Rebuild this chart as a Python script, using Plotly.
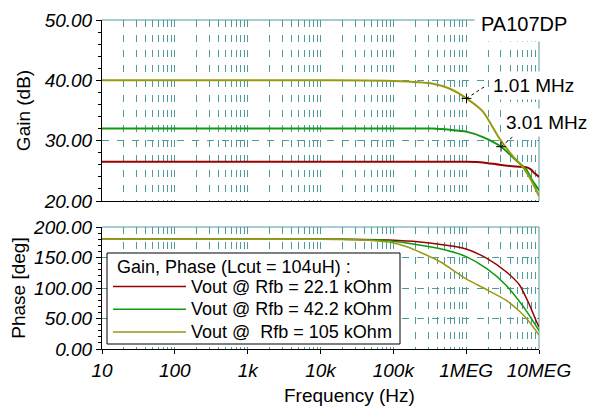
import numpy as np
import plotly.graph_objects as go

# ---------------- data ----------------
legend_title = "Gain, Phase (Lcut = 104uH) :"
series_names = ["Vout @ Rfb = 22.1 kOhm", "Vout @ Rfb = 42.2 kOhm", "Vout @\u00a0 Rfb = 105 kOhm"]
series_colors = ["#990000", "#109910", "#9a9a10"]

# Gain (dB)
gain_f_red = [10, 1e4, 1e5, 1e6, 1.7e6, 2.85e6, 4.8e6, 6.7e6, 7.8e6, 8.7e6, 1e7]
gain_red = [26.5, 26.5, 26.5, 26.5, 26.4, 26.0, 25.7, 25.6, 25.2, 24.6, 24.0]

gain_f_green = [10, 1e4, 1e5, 3.5e5, 6e5, 1e6, 1.7e6, 3.01e6, 4.8e6, 6.7e6, 8e6, 1e7]
gain_green = [32.0, 32.0, 32.0, 32.0, 31.8, 31.5, 30.6, 29.0, 26.8, 25.2, 23.5, 21.8]

gain_f_olive = [10, 1e4, 1e5, 3.5e5, 6e5, 1.01e6, 1.7e6, 2.85e6, 4.2e6, 6e6, 8e6, 1e7]
gain_olive = [40.0, 40.0, 39.9, 39.45, 38.6, 37.0, 34.8, 30.4, 27.7, 25.6, 23.2, 20.8]

# Phase (deg)
phase_f_red = [10, 2e4, 6.5e4, 1.86e5, 5.35e5, 1e6, 1.9e6, 3.5e6, 5.4e6, 7.3e6, 9e6, 1e7]
phase_red = [180, 180, 179.3, 176.5, 170, 164, 149, 127, 105, 74, 48, 36]

phase_f_green = [10, 2e4, 6.5e4, 1.86e5, 5.35e5, 1e6, 1.9e6, 3.5e6, 5.4e6, 7.3e6, 1e7]
phase_green = [180, 180, 178.5, 172, 162, 151.5, 132, 105, 78, 56, 30]

phase_f_olive = [10, 1e4, 3e4, 5e4, 9e4, 1.5e5, 2.5e5, 4.4e5, 1e6, 2e6, 3.5e6, 5.4e6, 7.3e6, 1e7]
phase_olive = [180, 180, 179, 178, 175, 168, 157, 143, 115, 96, 80, 62, 45, 23]

# cursor markers
marker_freqs = [1.01e6, 3.01e6]
marker_gains = [37.0, 29.0]
marker_labels = ["1.01 MHz", "3.01 MHz"]

x_tickvals = [10, 100, 1e3, 1e4, 1e5, 1e6, 1e7]
x_ticktext = ["10", "100", "1k", "10k", "100k", "1MEG", "10MEG"]
gain_ticks = [20, 30, 40, 50]
phase_ticks = [0, 50, 100, 150, 200]

# ---------------- styling ----------------
FONT = "Liberation Sans, Arial, sans-serif"
TEAL = "#4f9a9a"
FS = 19
FSL = 18
minor_x = [m * d for d in x_tickvals[:-1] for m in range(2, 10)]

# page body has an 8px margin -> figure drawn from (8, 8)
OFF = 8
PX0, PX1, PY0, PY1 = 102, 539, 20, 349       # plot area in reference pixels
W, H = 597 - OFF, 407 - OFF
L, T = PX0 - OFF, PY0 - OFF
R, B = W - (PX1 - OFF), H - (PY1 - OFF)
pw, ph = PX1 - PX0, PY1 - PY0
GAIN_H = 181
gain_dom = [1 - GAIN_H / ph, 1]
phase_dom = [0, 122 / ph]
DEC_PX = pw / 6                  # pixels per decade
DB_PX = GAIN_H / 30              # pixels per dB


def px(x):
    return (x - PX0) / pw


def py(y):
    return (PY1 - y) / ph


fig = go.Figure()

gain_sets = [(gain_f_red, gain_red), (gain_f_green, gain_green), (gain_f_olive, gain_olive)]
phase_sets = [(phase_f_red, phase_red), (phase_f_green, phase_green), (phase_f_olive, phase_olive)]

for i, ((gf, gv), (pf, pv)) in enumerate(zip(gain_sets, phase_sets)):
    fig.add_trace(go.Scatter(x=gf, y=gv, mode="lines", name=series_names[i], showlegend=False,
                             line=dict(color=series_colors[i], width=2, shape="spline", smoothing=0.6),
                             xaxis="x", yaxis="y"))
    fig.add_trace(go.Scatter(x=pf, y=pv, mode="lines", name=series_names[i], showlegend=False,
                             line=dict(color=series_colors[i], width=1.5, shape="spline", smoothing=0.6),
                             xaxis="x2", yaxis="y2"))

# cursor labels with dotted leaders (offsets in pixels)
label_offsets = [(67, 13), (45, 24)]
leader_ends = [(20, 13), (13, 11)]
for f, g, lab, (dx, dy), (lx, ly) in zip(marker_freqs, marker_gains, marker_labels,
                                          label_offsets, leader_ends):
    fig.add_trace(go.Scatter(x=[f, f * 10 ** (lx / DEC_PX)], y=[g, g + ly / DB_PX],
                             mode="lines", showlegend=False,
                             line=dict(color="black", width=1, dash="dot"),
                             xaxis="x", yaxis="y"))
    fig.add_annotation(x=np.log10(f), y=g, xref="x", yref="y", text=lab,
                       showarrow=False, xshift=dx, yshift=dy, bgcolor="white", borderpad=3,
                       font=dict(family=FONT, size=FS, color="black"))

fig.add_trace(go.Scatter(x=marker_freqs, y=marker_gains, mode="markers", showlegend=False,
                         marker=dict(symbol="cross-thin", size=7, line=dict(color="black", width=1)),
                         xaxis="x", yaxis="y"))

fig.add_annotation(x=px(474), y=py(24), xref="paper", yref="paper",
                   text="PA107DP", showarrow=False, xanchor="left", yanchor="middle",
                   bgcolor="white", borderpad=6, font=dict(family=FONT, size=20, color="black"))

fig.add_annotation(x=px(349), y=py(395), xref="paper", yref="paper",
                   text="Frequency (Hz)", showarrow=False, xanchor="center", yanchor="middle",
                   font=dict(family=FONT, size=FS, color="black"))

# frame borders (teal) top and right
for xr, yr in [("x domain", "y domain"), ("x2 domain", "y2 domain")]:
    fig.add_shape(type="line", xref=xr, yref=yr, x0=0, x1=1, y0=1, y1=1,
                  line=dict(color=TEAL, width=1), layer="below")
    fig.add_shape(type="line", xref=xr, yref=yr, x0=1, x1=1, y0=0, y1=1,
                  line=dict(color=TEAL, width=1), layer="below")

# legend box
LG_X0, LG_X1, LG_Y0, LG_Y1 = 107, 400, 253, 344
fig.add_shape(type="rect", xref="paper", yref="paper",
              x0=px(LG_X0), x1=px(LG_X1), y0=py(LG_Y1), y1=py(LG_Y0),
              fillcolor="white", line=dict(color="black", width=1), layer="above")
fig.add_annotation(x=px(LG_X0 + 8), y=py(LG_Y0 + 13.5), xref="paper", yref="paper",
                   text=legend_title, showarrow=False, xanchor="left", yanchor="middle",
                   font=dict(family=FONT, size=FSL, color="black"))
for i, (name, col) in enumerate(zip(series_names, series_colors)):
    yc = LG_Y0 + 33.5 + 22.7 * i
    fig.add_shape(type="line", xref="paper", yref="paper",
                  x0=px(LG_X0 + 6), x1=px(LG_X0 + 79), y0=py(yc), y1=py(yc),
                  line=dict(color=col, width=1.5), layer="above")
    fig.add_annotation(x=px(LG_X1 - 6), y=py(yc), xref="paper", yref="paper",
                       text=name, showarrow=False, xanchor="right", yanchor="middle",
                       font=dict(family=FONT, size=FSL, color="black"))

xcommon = dict(type="log", range=[1, 7], showline=True, linecolor="black", linewidth=1,
               showgrid=True, gridcolor=TEAL, gridwidth=1, griddash="7px,8px",
               tickvals=x_tickvals, ticktext=x_ticktext, zeroline=False,
               minor=dict(tickvals=minor_x, showgrid=True, gridcolor=TEAL, griddash="7px,8px",
                          gridwidth=1))
tickfont = dict(family=FONT, size=FS, color="black", style="italic")

fig.update_layout(
    width=W, height=H, margin=dict(l=L, r=R, t=T, b=B, autoexpand=False),
    paper_bgcolor="white", plot_bgcolor="white",
    font=dict(family=FONT, size=FS, color="black"),
    showlegend=False,
    xaxis=dict(**xcommon, anchor="y", domain=[0, 1], showticklabels=False, ticks=""),
    xaxis2=dict(**xcommon, anchor="y2", domain=[0, 1], matches="x", ticks="outside", ticklen=4,
                tickcolor="black", tickfont=tickfont),
    yaxis=dict(domain=gain_dom, anchor="x", range=[20, 50], tickvals=gain_ticks, tickformat=".2f",
               showline=True, linecolor="black", showgrid=True, gridcolor=TEAL, griddash="7px,8px",
               zeroline=False, ticks="outside", ticklen=5, tickcolor="black", tickfont=tickfont,
               minor=dict(dtick=2, ticks="outside", ticklen=3, tickcolor="black"),
               title=dict(text="Gain (dB)", font=dict(family=FONT, size=FS), standoff=8)),
    yaxis2=dict(domain=phase_dom, anchor="x2", range=[0, 200], tickvals=phase_ticks, tickformat=".2f",
                showline=True, linecolor="black", showgrid=True, gridcolor=TEAL, griddash="7px,8px",
                zeroline=False, ticks="outside", ticklen=5, tickcolor="black", tickfont=tickfont,
                minor=dict(dtick=10, ticks="outside", ticklen=3, tickcolor="black"),
                title=dict(text="Phase [deg]", font=dict(family=FONT, size=FS), standoff=8)),
)

fig.write_html("out.html")
